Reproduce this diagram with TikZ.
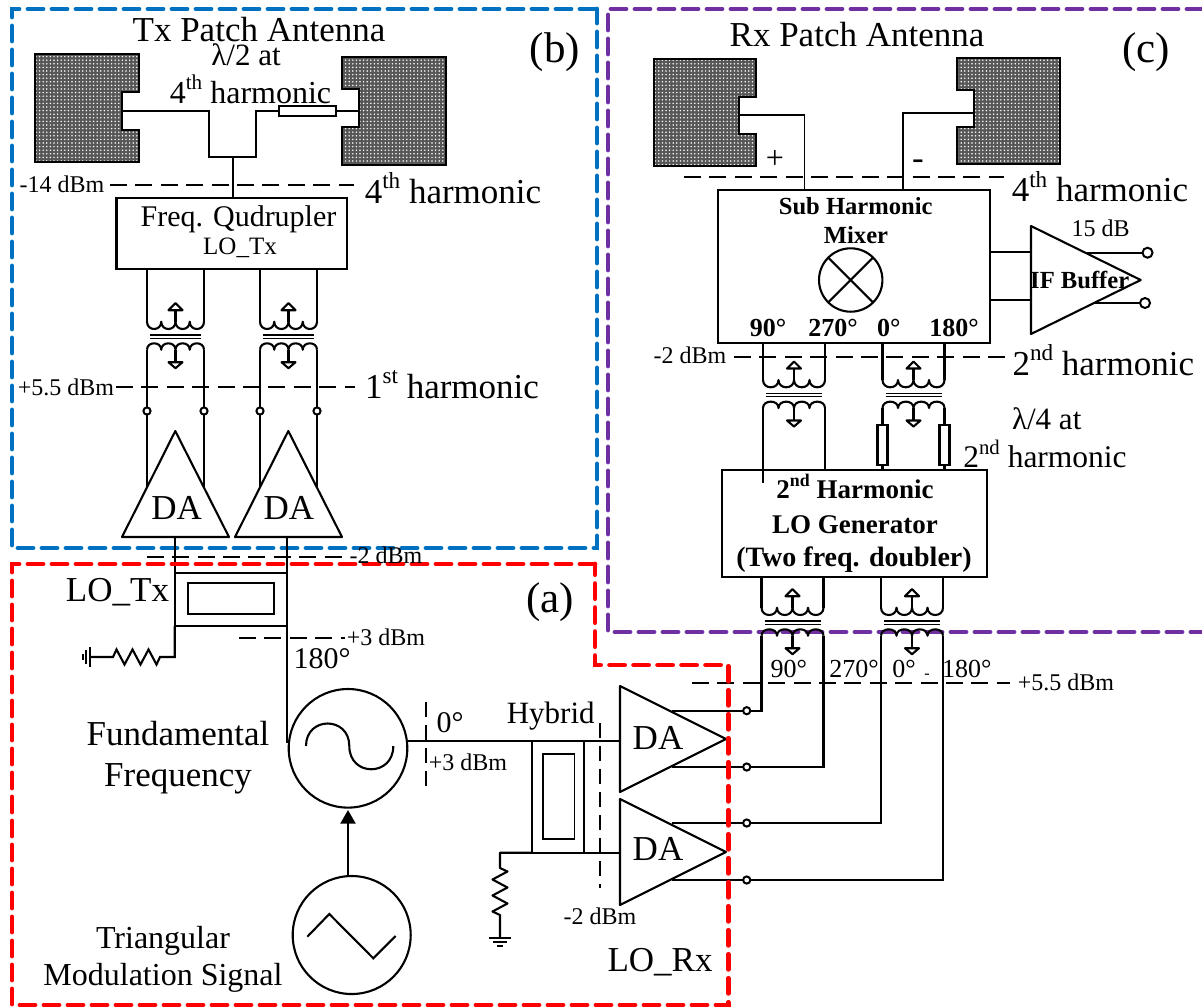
\documentclass[tikz,border=0pt]{standalone}
\usepackage{fontspec}
\setmainfont{Liberation Serif}
\usetikzlibrary{arrows.meta,patterns.meta}
\newcommand{\sps}[1]{\raisebox{0.42em}{\scalebox{.66}{#1}}}
\newcommand{\xfmr}[4]{%
  \begin{scope}[shift={(#2,#3)}]
    \pgfmathsetmacro{\ww}{#4}
    \pgfmathsetmacro{\ss}{#4/2}
    \coordinate (#1ul) at (-\ww,-15);
    \coordinate (#1ur) at (\ww,-15);
    \coordinate (#1ll) at (-\ww,13);
    \coordinate (#1lr) at (\ww,13);
    \draw[wire,line join=round] (-\ww,-15) .. controls (-\ww,-5.3) and (-\ss,-5.3) .. (-\ss,-15)
       .. controls (-\ss,-5.3) and (0,-5.3) .. (0,-15)
       .. controls (0,-5.3) and (\ss,-5.3) .. (\ss,-15)
       .. controls (\ss,-5.3) and (\ww,-5.3) .. (\ww,-15);
    \draw[wire,line join=round] (-\ww,13) .. controls (-\ww,4.5) and (-\ss,4.5) .. (-\ss,13)
       .. controls (-\ss,4.5) and (0,4.5) .. (0,13)
       .. controls (0,4.5) and (\ss,4.5) .. (\ss,13)
       .. controls (\ss,4.5) and (\ww,4.5) .. (\ww,13);
    \draw[thinwire] (-\ww+3,-1.7) -- (\ww-3,-1.7) (-\ww+3,1.7) -- (\ww-3,1.7);
    \draw[wire] (0,-15) -- (0,-26.5) (0,13) -- (0,25.5);
    \draw[wire,line join=round] (-7,-26.5) -- (7,-26.5) -- (0,-33.5) -- cycle;
    \draw[wire,line join=round] (-7,25.5) -- (7,25.5) -- (0,31.5) -- cycle;
  \end{scope}}
\newcommand{\resv}{-- ++(7.5,3.5) -- ++(-15,8) -- ++(15,8) -- ++(-15,8) -- ++(15,8) -- ++(-15,8) -- ++(7.5,3.5)}
\newcommand{\patchfill}[1]{%
  \fill[black!66] #1;
  \fill[pattern={Dots[distance=1.8pt,radius=0.42pt]},pattern color=white] #1;
  \draw[black,line width=1.1pt,line join=miter] #1;}
\begin{document}
\begin{tikzpicture}[x=0.5pt,y=-0.5pt,
  wire/.style={line width=1.05pt,black},
  thinwire/.style={line width=0.6pt,black},
  lev/.style={line width=1pt,black,dash pattern=on 8.5pt off 4.2pt},
  grpb/.style={line width=2.4pt,color=#1,dash pattern=on 7.5pt off 4.5pt,line cap=round},
  blockn/.style={draw,line width=1.05pt,inner sep=0pt,outer sep=0pt,fill=none},
  dotn/.style={circle,draw,line width=1pt,fill=white,inner sep=0pt,outer sep=0pt,minimum size=3.6pt},
  tt/.style={inner sep=0pt,anchor=base,font=\fontsize{#1}{#1}\selectfont},
  tb/.style={inner sep=0pt,anchor=base,font=\fontsize{#1}{#1}\selectfont\bfseries}]
\useasboundingbox (0,0) rectangle (1202,1007);
\definecolor{bluegrp}{HTML}{0070C0}
\definecolor{purplegrp}{HTML}{7030A0}
\definecolor{redgrp}{HTML}{FF0000}

% group frames behind the circuit
\draw[grpb=bluegrp] (595,9) -- (12,9) -- (12,548) -- (597,548) -- (597,9);
\draw[grpb=purplegrp] (1202,9) -- (608,9) -- (608,632) -- (1202,632);

% ---------- blocks ----------
\node[blockn,minimum width=115.25pt,minimum height=35.5pt] (txq) at (231.75,233.5) {};
\node[blockn,minimum width=136pt,minimum height=76.5pt] (shm) at (854,266.5) {};
\node[blockn,minimum width=132.5pt,minimum height=53.35pt] (lotwo) at (854.2,523.35) {};
\node[blockn,minimum width=56pt,minimum height=26.65pt] (hybl) at (230.7,599.35) {};
\node[draw,thinwire,inner sep=0pt,outer sep=0pt,minimum width=43pt,minimum height=15.5pt] (hybli) at (231,598.5) {};
\node[blockn,minimum width=26.15pt,minimum height=56pt] (hybr) at (557.85,796.7) {};
\node[draw,thinwire,inner sep=0pt,outer sep=0pt,minimum width=15.85pt,minimum height=42.5pt] (hybri) at (558.85,796.5) {};
\node[circle,draw,wire,inner sep=0pt,outer sep=0pt,minimum size=59.3pt] (osc) at (348,748.3) {};
\node[circle,draw,wire,inner sep=0pt,outer sep=0pt,minimum size=59pt] (tri) at (351.7,935) {};
\node[circle,draw,wire,inner sep=0pt,outer sep=0pt,minimum size=31.7pt] (mix) at (850.7,280) {};
\draw[wire] (mix.north west) -- (mix.south east) (mix.north east) -- (mix.south west);

% oscillator glyphs
\draw[wire] (306,746) .. controls (306,716) and (349.3,716) .. (349.3,746)
   .. controls (349.3,777) and (393.3,777) .. (393.3,746);
\draw[wire,line join=miter] (307.3,936.7) -- (329.3,914) -- (373.3,958.3) -- (395.7,936);
\coordinate (trout) at (348,875);
\coordinate (oscinb) at (348,810);
\draw[wire,-{Triangle[length=6.8pt,width=7.5pt]}] (trout) -- (oscinb);

% ---------- Tx patches and feed ----------
\patchfill{(35,54) -- (139,54) -- (139,92) -- (122,92) -- (122,130) -- (139,130) -- (139,162) -- (35,162) -- cycle}
\patchfill{(342,57) -- (446,57) -- (446,165) -- (342,165) -- (342,127) -- (359,127) -- (359,89) -- (342,89) -- cycle}
\coordinate (feedl) at (122,111);
\coordinate (feedr) at (359,111);
\node[draw,wire,fill=white,inner sep=0pt,outer sep=0pt,minimum width=28.5pt,minimum height=5pt] (txres) at (307.5,111) {};
\coordinate (fa) at (209,111); \coordinate (fb) at (256,111); \coordinate (fc) at (233,157);
\draw[wire] (feedl) -- (fa) |- (fc) -| (fb) -- (txres.west);
\draw[wire] (txres.east) -- (feedr);
\draw[wire] (fc) -- (fc |- txq.north);

% ---------- Tx transformers and DAs ----------
\xfmr{ta}{175.5}{336.7}{28.5}
\xfmr{tb}{288.5}{336.7}{28.5}
\foreach \n/\x in {da/147,db/204,dc/260,dd/317}{\node[dotn] (\n) at (\x,411) {};}
\draw[wire] (taul |- txq.south) -- (taul) (taur |- txq.south) -- (taur) (tbul |- txq.south) -- (tbul) (tbur |- txq.south) -- (tbur);
\draw[wire] (tall) -- (da.north) (talr) -- (db.north) (tbll) -- (dc.north) (tblr) -- (dd.north);
\coordinate (ea) at (147,487); \coordinate (eb) at (204,487); \coordinate (ec) at (260,487); \coordinate (ed) at (317,487);
\draw[wire] (da.south) -- (ea) (db.south) -- (eb) (dc.south) -- (ec) (dd.south) -- (ed);
\draw[wire,line join=round] (175.3,431) -- (229,537) -- (122,537) -- cycle;
\draw[wire,line join=round] (288.3,431) -- (342,537) -- (235,537) -- cycle;
\coordinate (tia) at (174.7,537); \coordinate (tib) at (286.7,537);
\draw[wire] (tia) -- (hybl.north west) -- (hybl.south west);
\draw[wire] (tib) -- (hybl.north east) -- (hybl.south east);

% left hybrid termination
\coordinate (lgnd) at (90,657);
\draw[wire] (hybl.south west) |- (160,657) -- ++(-3.5,7.5) -- ++(-8,-15) -- ++(-8,15) -- ++(-8,-15) -- ++(-8,15) -- ++(-8,-15) -- ++(-3.5,7.5) -- (lgnd);
\draw[wire] (90,647) -- (90,667) (86,650) -- (86,664) (82.7,654) -- (82.7,660);
\coordinate (oscin) at (286.7,743);
\draw[wire] (hybl.south east) -- (oscin);

% ---------- right hybrid and DAs ----------
\coordinate (oscout) at (406.8,740.7);
\coordinate (dain) at (620,740.7);
\coordinate (dbin) at (620,852.7);
\draw[wire] (oscout) -- (hybr.north west) -- (hybr.north east) -- (dain);
\draw[wire] (hybr.north west) -- (hybr.south west);
\draw[wire] (hybr.north east) -- (hybr.south east) -- (dbin);
\coordinate (rterm) at (500,852.7);
\coordinate (rgnd) at (500,938);
\draw[wire,line join=round] (hybr.south west) -- (rterm) -- (500,868) \resv -- (rgnd);
\draw[wire] (489,938) -- (511,938) (493,942) -- (507,942) (497,946) -- (503,946);
\draw[wire,line join=round] (620,686) -- (726,739) -- (620,792) -- cycle;
\draw[wire,line join=round] (620,799) -- (726,852) -- (620,905) -- cycle;
\foreach \n/\y in {ra/710.7,rb/767,rc/823,rd/880}{\node[dotn] (\n) at (746.7,\y) {};}
\coordinate (oa) at (671.7,710.7); \coordinate (ob) at (671.7,767); \coordinate (oc) at (671.7,823); \coordinate (od) at (671.7,880);
\draw[wire] (oa) -- (ra.west) (ob) -- (rb.west) (oc) -- (rc.west) (od) -- (rd.west);

% ---------- Rx transformers ----------
\xfmr{ua}{794}{395}{31}
\xfmr{ub}{913.5}{395}{31}
\xfmr{va}{792.5}{622.7}{31}
\xfmr{vb}{912}{622.7}{31}
\draw[wire] (uaul |- shm.south) -- (uaul) (uaur |- shm.south) -- (uaur) (ubul |- shm.south) -- (ubul) (ubur |- shm.south) -- (ubur);
\coordinate (uain) at (763,482.7);
\draw[wire] (uall) -- (uain) (ualr) -- (ualr |- lotwo.north);
\node[draw,wire,fill=white,inner sep=0pt,outer sep=0pt,minimum width=5pt,minimum height=20pt] (rla) at (882.5,445) {};
\node[draw,wire,fill=white,inner sep=0pt,outer sep=0pt,minimum width=5pt,minimum height=20pt] (rlb) at (944.5,445) {};
\draw[wire] (ubll) -- (rla.north) (rla.south) -- (rla.south |- lotwo.north);
\draw[wire] (ublr) -- (rlb.north) (rlb.south) -- (rlb.south |- lotwo.north);
\draw[wire] (vaul |- lotwo.south) -- (vaul) (vaur |- lotwo.south) -- (vaur) (vbul |- lotwo.south) -- (vbul) (vbur |- lotwo.south) -- (vbur);
\draw[wire] (vall) |- (ra.east);
\draw[wire] (valr) |- (rb.east);
\draw[wire] (vbll) |- (rc.east);
\draw[wire] (vblr) |- (rd.east);

% ---------- Rx patches ----------
\patchfill{(654,59) -- (756,59) -- (756,97) -- (739,97) -- (739,134) -- (756,134) -- (756,166) -- (654,166) -- cycle}
\patchfill{(957,58) -- (1060,58) -- (1060,164) -- (957,164) -- (957,127) -- (974,127) -- (974,90) -- (957,90) -- cycle}
\coordinate (pl) at (739,115.3); \coordinate (pla) at (804.4,115.3);
\coordinate (pr) at (974,112.7); \coordinate (pra) at (903,112.7);
\draw[black,line width=0.9pt] (pl) -- (pla) -- (pla |- shm.north);
\draw[wire] (pr) -- (pra) -- (pra |- shm.north);

% ---------- IF buffer ----------
\draw[wire,line join=round] (1031,226) -- (1140.7,280) -- (1031,334) -- cycle;
\coordinate (ifa) at (1031,252); \coordinate (ifb) at (1031,300);
\draw[wire] (ifa -| shm.east) -- (ifa) (ifb -| shm.east) -- (ifb);
\node[dotn,minimum size=5pt] (ifo) at (1147.5,252.7) {};
\node[dotn,minimum size=5pt] (ifp) at (1145,303) {};
\coordinate (ifc) at (1087,252.7); \coordinate (ifd) at (1094,303);
\draw[wire] (ifc) -- (ifo.west) (ifd) -- (ifp.west);

% ---------- level lines ----------
\draw[lev] (110,185) -- (354,185);
\draw[lev] (116,387) -- (355,387);
\draw[lev] (146.7,556.7) -- (347,556.7);
\draw[lev] (239,638) -- (345,638);
\draw[lev] (684,177) -- (1004,177);
\draw[lev] (734,356.7) -- (1005,356.7);
\draw[lev] (692,683.3) -- (1010,683.3);
\draw[lev,dash pattern=on 7.5pt off 4pt] (426,702) -- (426,787);
\draw[lev,dash pattern=on 7.5pt off 4pt] (600,723) -- (600,888);

% red frame above the circuit
\draw[grpb=redgrp] (595,564) -- (12,564) -- (12,1005) -- (728.3,1005) -- (728.3,665) -- (595,665) -- (595,564);

% ---------- text ----------
\node[tt=17.5] (t1) at (259,41) {Tx Patch Antenna};
\node[tt=15.5] (t2) at (246,65) {λ/2 at};
\node[tt=16] (t3) at (250.5,103) {4\sps{th} harmonic};
\node[tt=21.5] (t4) at (555,62) {(b)};
\node[tt=12] (t5) at (62,192) {-14 dBm};
\node[tt=17.5] (t6) at (453,203) {4\sps{th} harmonic};
\node[tt=15] (t7) at (238.5,226.7) {Freq. Qudrupler};
\node[tt=12.5] (t8) at (240,254) {LO\_Tx};
\node[tt=12] (t9) at (66,395) {+5.5 dBm};
\node[tt=17.5] (t10) at (452,398) {1\sps{st} harmonic};
\node[tt=17.5] (t11) at (176.7,519) {DA};
\node[tt=17.5] (t12) at (289,519) {DA};
\node[tt=12] (t13) at (386,563) {-2 dBm};
\node[tt=17.5] (t14) at (117.5,601.7) {LO\_Tx};
\node[tt=12] (t15) at (386,645.7) {+3 dBm};
\node[tt=15] (t16) at (322,668) {180°};
\node[tt=21.5] (t17) at (550,612) {(a)};
\node[tt=17.5] (t18) at (178,745) {Fundamental};
\node[tt=17.5] (t19) at (178,786) {Frequency};
\node[tt=16] (t20) at (163,948) {Triangular};
\node[tt=16] (t21) at (163,985) {Modulation Signal};
\node[tt=15] (t22) at (450,732.7) {0°};
\node[tt=12] (t23) at (468,770) {+3 dBm};
\node[tt=15.5] (t24) at (550.7,723) {Hybrid};
\node[tt=17.5] (t25) at (658,749) {DA};
\node[tt=17.5] (t26) at (658,860.7) {DA};
\node[tt=12] (t27) at (600,924) {-2 dBm};
\node[tt=17.5] (t28) at (660,971) {LO\_Rx};
\node[tt=17.5] (t29) at (857,46) {Rx Patch Antenna};
\node[tt=21.5] (t30) at (1146,62) {(c)};
\node[tt=16] (t31) at (775,168.7) {+};
\node[tt=17.5] (t32) at (918,169) {-};
\node[tt=17.5] (t33) at (1100,201.7) {4\sps{th} harmonic};
\node[tb=12.3] (t34) at (855.7,214) {Sub Harmonic};
\node[tb=12.3] (t35) at (856,243) {Mixer};
\node[tb=13] (t36) at (768,336.7) {90°};
\node[tb=13] (t37) at (833,336.7) {270°};
\node[tb=13] (t38) at (888.7,336.7) {0°};
\node[tb=13] (t39) at (954,336.7) {180°};
\node[tt=12] (t40) at (1100.5,236.7) {15 dB};
\node[tb=12.3] (t41) at (1079.7,288) {IF Buffer};
\node[tt=12] (t42) at (690,363) {-2 dBm};
\node[tt=17.5] (t43) at (1103.3,375) {2\sps{nd} harmonic};
\node[tt=15.5] (t44) at (1046.7,429) {λ/4 at};
\node[tt=15.75] (t45) at (1045,467.7) {2\sps{nd} harmonic};
\node[tb=13.5] (t46) at (855,498) {2\sps{nd} Harmonic};
\node[tb=13.5] (t47) at (855,533) {LO Generator};
\node[tb=14] (t48) at (854,566) {(Two freq. doubler)};
\node[tt=13] (t49) at (788.7,677.3) {90°};
\node[tt=13] (t50) at (854,677.3) {270°};
\node[tt=13] (t51) at (904,677.3) {0°};
\node[tt=8] (t52) at (927,678) {-};
\node[tt=13] (t53) at (966.7,677.3) {180°};
\node[tt=12] (t54) at (1066,690) {+5.5 dBm};
\end{tikzpicture}
\end{document}
